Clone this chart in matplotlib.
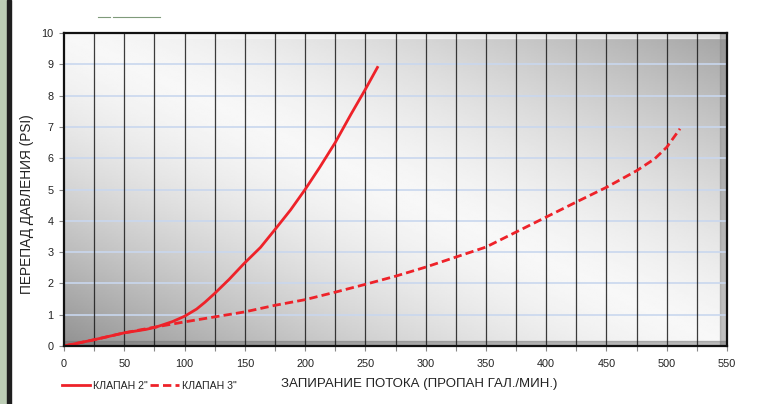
import numpy as np
import matplotlib.pyplot as plt
from matplotlib.patches import Rectangle
from matplotlib.lines import Line2D

# data
flow_2 = [0, 25, 50, 68, 76, 90, 100, 110, 117, 125, 137, 149, 163, 175, 188, 200, 212,
          225, 238, 250, 260]
dp_2 = [0, 0.2, 0.42, 0.53, 0.6, 0.78, 0.95, 1.18, 1.4, 1.68, 2.13, 2.62, 3.15, 3.72,
        4.35, 5.0, 5.7, 6.5, 7.4, 8.2, 8.9]
flow_3 = [0, 25, 50, 75, 100, 125, 150, 175, 200, 225, 250, 275, 300, 325, 350, 375, 400,
          425, 450, 475, 490, 500, 511]
dp_3 = [0, 0.2, 0.42, 0.6, 0.77, 0.93, 1.09, 1.3, 1.48, 1.72, 1.97, 2.23, 2.52, 2.84, 3.16,
        3.64, 4.12, 4.6, 5.07, 5.6, 5.98, 6.35, 6.94]
labels = ['КЛАПАН 2"', 'КЛАПАН 3"']
xlabel = 'ЗАПИРАНИЕ ПОТОКА (ПРОПАН ГАЛ./МИН.)'
ylabel = 'ПЕРЕПАД ДАВЛЕНИЯ (PSI)'

red = '#ee2229'
plt.rcParams['font.family'] = ['Liberation Sans', 'DejaVu Sans']

fig = plt.figure(figsize=(7.64, 4.04), dpi=100)
ax = fig.add_axes([64 / 764, 58 / 404, 663 / 764, 313 / 404])

# page decorations on the left
fig.patches.append(Rectangle((0, 0), 7 / 764, 1, transform=fig.transFigure,
                             color='#bccdb5', zorder=0))
fig.patches.append(Rectangle((7 / 764, 0), 4 / 764, 1, transform=fig.transFigure,
                             color='#1e1e1e', zorder=0))
fig.add_artist(Line2D([98 / 764, 110 / 764], [1 - 17 / 404] * 2, color='#7f9a7a', lw=0.8))
fig.add_artist(Line2D([113 / 764, 160 / 764], [1 - 17 / 404] * 2, color='#7f9a7a', lw=0.8))

# diagonal gradient background: light band from top-left to bottom-right
u, v = np.meshgrid(np.linspace(0, 1, 300), np.linspace(1, 0, 200))
d = u + v - 1.0
bright = np.where(d < 0, 0.97 - 0.40 * np.clip(-d, 0, 1) ** 1.5,
                  0.97 - 0.33 * np.clip(d, 0, 1) ** 1.4)
ax.imshow(bright, cmap='gray', vmin=0, vmax=1, extent=(0, 1, 0, 1),
          transform=ax.transAxes, aspect='auto', zorder=0, interpolation='bilinear')

# bevel edges
ax.add_patch(Rectangle((0, 0.985), 1, 0.015, transform=ax.transAxes,
                       color='#f6f6f6', alpha=0.7, zorder=0.5))
ax.add_patch(Rectangle((0.99, 0), 0.01, 1, transform=ax.transAxes,
                       color='#8a8a8a', alpha=0.5, zorder=0.5))
ax.add_patch(Rectangle((0, 0), 1, 0.016, transform=ax.transAxes,
                       color='#707070', alpha=0.45, zorder=0.5))

ax.set_xlim(0, 550)
ax.set_ylim(0, 10)

for y in range(1, 10):
    ax.axhline(y, color='#c9d7ee', lw=1.2, zorder=1)
for x in range(25, 550, 25):
    ax.axvline(x, color='#1a1a1a', lw=0.9, alpha=0.85, zorder=1)

ax.plot(flow_2, dp_2, color=red, lw=2.0, label=labels[0], zorder=3,
        solid_joinstyle='round')
ax.plot(flow_3, dp_3, color=red, lw=2.0, ls=(0, (3.0, 1.5)), label=labels[1], zorder=3)

for s in ax.spines.values():
    s.set_linewidth(1.6)
    s.set_color('#111111')
    s.set_zorder(4)

ax.set_xticks(range(0, 551, 50))
ax.set_xticks(range(25, 550, 50), minor=True)
ax.set_yticks(range(0, 11))
ax.tick_params(axis='both', which='both', direction='out', length=3.5,
               width=0.8, color='#888888', labelsize=7.8, labelcolor='#222222', pad=4)
ax.tick_params(axis='x', pad=6)

fig.text(27 / 764, 1 - 204 / 404, ylabel, rotation=90, ha='center', va='center',
         fontsize=9.8, color='#222222')
fig.text(419 / 764, 1 - 384 / 404, xlabel, ha='center', va='center',
         fontsize=9.5, color='#222222')

fig.legend(loc='center left', bbox_to_anchor=(52 / 764, 1 - 386 / 404), ncol=2,
           frameon=False, fontsize=7.6, handlelength=2.7, handletextpad=0.3,
           columnspacing=0.2, labelcolor='#222222')

fig.savefig('out.png', dpi=100)
